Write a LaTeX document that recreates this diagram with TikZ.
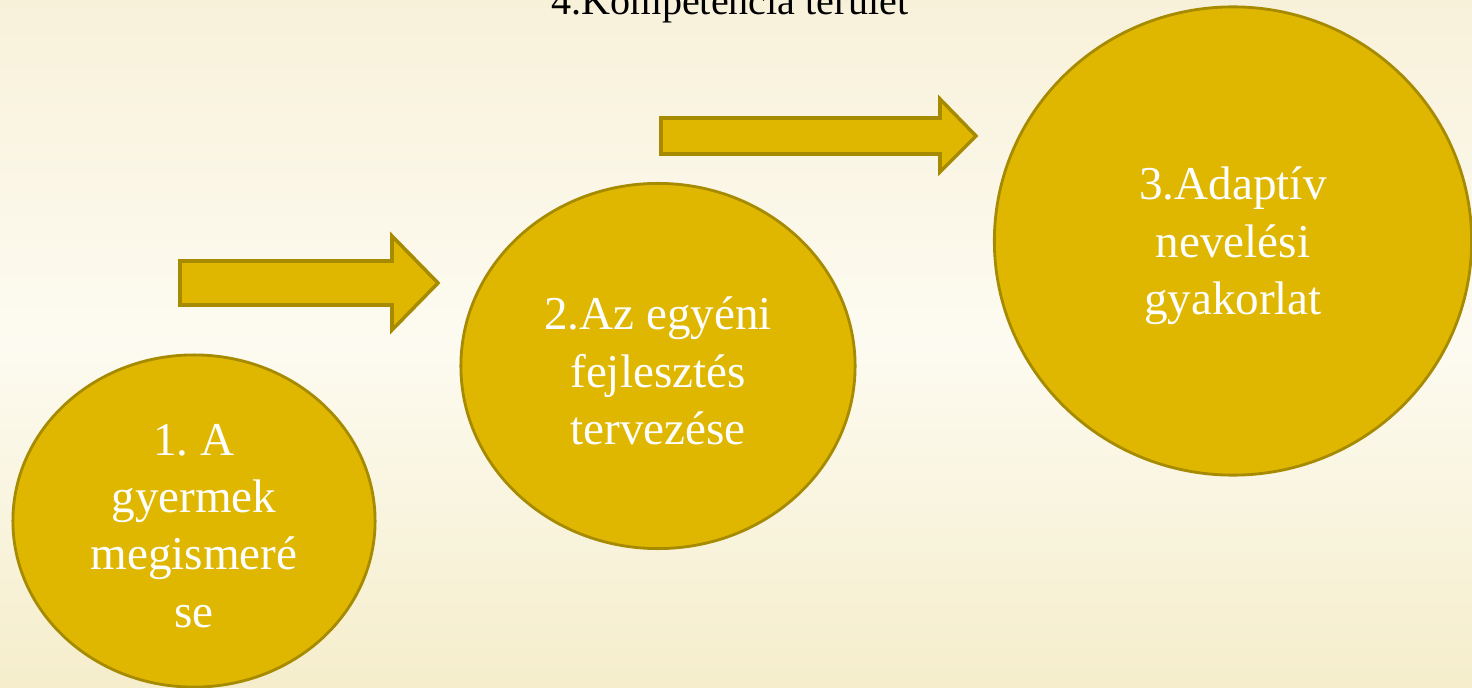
\documentclass[tikz,border=0pt]{standalone}
\usepackage{fontspec}
\setmainfont{Liberation Serif}
\usetikzlibrary{shapes.geometric}
\definecolor{arany}{HTML}{E0B700}
\definecolor{aranykeret}{HTML}{A68A00}
\definecolor{hatterfent}{HTML}{F8F1DA}
\definecolor{hatterkozep}{HTML}{FDFBF1}
\definecolor{hatterlent}{HTML}{F5EDCB}

\begin{document}
\begin{tikzpicture}[x=0.01cm, y=-0.01cm,
	lepeskor/.style={ellipse, draw=aranykeret, line width=0.8pt, fill=arany, inner sep=0pt},
	lepesszoveg/.style={text=white, align=center, inner sep=0pt, yshift=-0.05cm, font=\fontsize{13.4}{16.3}\selectfont},
	nyil/.style={draw=aranykeret, line width=1pt, fill=arany, line join=miter}]
			%%%%% START %%%%%
			
			\shade[top color=hatterfent, bottom color=hatterlent, middle color=hatterkozep] (0, 0) rectangle (1472, 688);
			\useasboundingbox (0, 0) rectangle (1472, 688);
			
			\node[font=\fontsize{11.4}{13}\selectfont, anchor=base] (cim) at (730, 15) {4.Kompetencia terület};
			
			\node[lepeskor, minimum width=3.62cm, minimum height=3.32cm] (lepes1) at (194, 521) {};
			\node[lepesszoveg] (szoveg1) at (lepes1) {1.\ A\\gyermek\\megismeré\\se};
			
			\node[lepeskor, minimum width=3.94cm, minimum height=3.65cm] (lepes2) at (658, 366) {};
			\node[lepesszoveg] (szoveg2) at (lepes2) {2.Az egyéni\\fejlesztés\\tervezése};
			
			\node[lepeskor, minimum width=4.77cm, minimum height=4.68cm] (lepes3) at (1233, 241) {};
			\node[lepesszoveg] (szoveg3) at (lepes3) {3.Adaptív\\nevelési\\gyakorlat};
			
			\draw[nyil] (180, 261) -- (392, 261) -- (392, 236) -- (438, 283) -- (392, 330) -- (392, 305) -- (180, 305) -- cycle;
			\draw[nyil] (661, 118) -- (940, 118) -- (940, 99) -- (976, 136) -- (940, 172) -- (940, 154) -- (661, 154) -- cycle;
			
			%%%%% END %%%%%
\end{tikzpicture}
\end{document}
